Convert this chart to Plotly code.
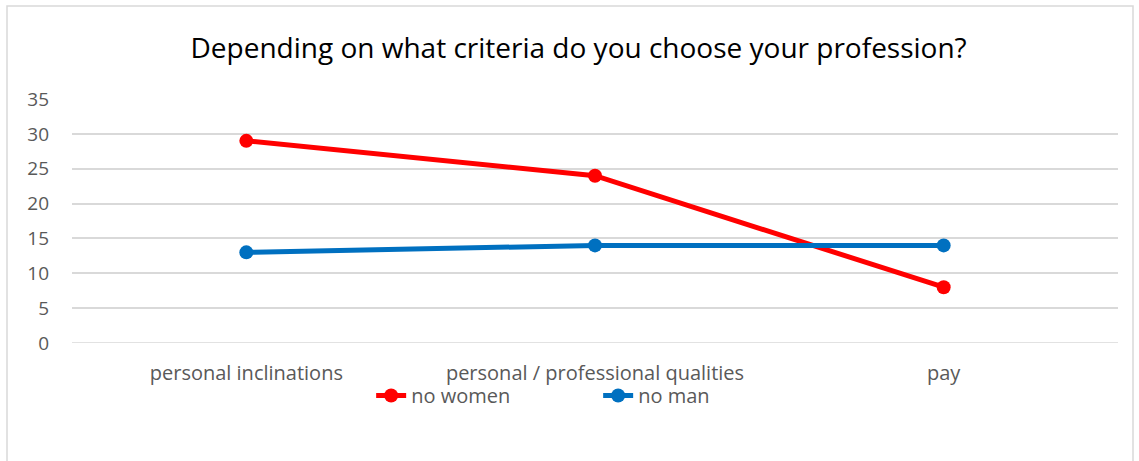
import plotly.graph_objects as go

categories = ["personal inclinations", "personal / professional qualities", "pay"]
women = [29, 24, 8]
men = [13, 14, 14]
y_ticks = [0, 5, 10, 15, 20, 25, 30, 35]

FONT = "Open Sans"
fig = go.Figure()
fig.add_trace(go.Scatter(x=categories, y=women, name="no women", mode="lines+markers",
                         line=dict(color="#ff0000", width=5), marker=dict(size=14, color="#ff0000")))
fig.add_trace(go.Scatter(x=categories, y=men, name="no man", mode="lines+markers",
                         line=dict(color="#0070c0", width=5), marker=dict(size=14, color="#0070c0")))

fig.update_layout(
    width=1139, height=461,
    paper_bgcolor="white", plot_bgcolor="white",
    margin=dict(l=72, r=21, t=99, b=118),
    font=dict(family=FONT, size=20, color="#595959"),
    title=dict(text="Depending on what criteria do you choose your profession?",
               font=dict(family=FONT, size=28, color="#000000"),
               x=0.508, xanchor="center", y=0.895, yanchor="middle"),
    xaxis=dict(type="category", range=[-0.5, 2.5], showgrid=False, zeroline=False,
               showline=False, ticks="", ticklabelstandoff=16, fixedrange=True,
               tickfont=dict(family=FONT, size=20, color="#595959")),
    yaxis=dict(range=[0, 35], tickvals=y_ticks, showgrid=True, gridcolor="#d9d9d9", gridwidth=1.5,
               zeroline=False, showline=False, ticks="", ticklabelstandoff=22, fixedrange=True,
               tickfont=dict(family=FONT, size=19, color="#595959")),
    showlegend=True,
    legend=dict(orientation="h", x=0.286, xanchor="left", y=-0.215, yanchor="middle",
                font=dict(family=FONT, size=20, color="#595959"),
                bgcolor="rgba(0,0,0,0)", itemwidth=30, entrywidth=182, entrywidthmode="pixels"),
    shapes=[dict(type="rect", xref="paper", yref="paper",
                 x0=-65/1046, x1=1 + 15/1046, y0=-(461 - 343 + 5) / 244, y1=1 + 93/244,
                 line=dict(color="#d9d9d9", width=1.5), fillcolor="rgba(0,0,0,0)", layer="below")],
)
# y=0 gridline
fig.add_hline(y=0, line=dict(color="#d9d9d9", width=1.5), layer="below")

fig.write_html("out.html")
